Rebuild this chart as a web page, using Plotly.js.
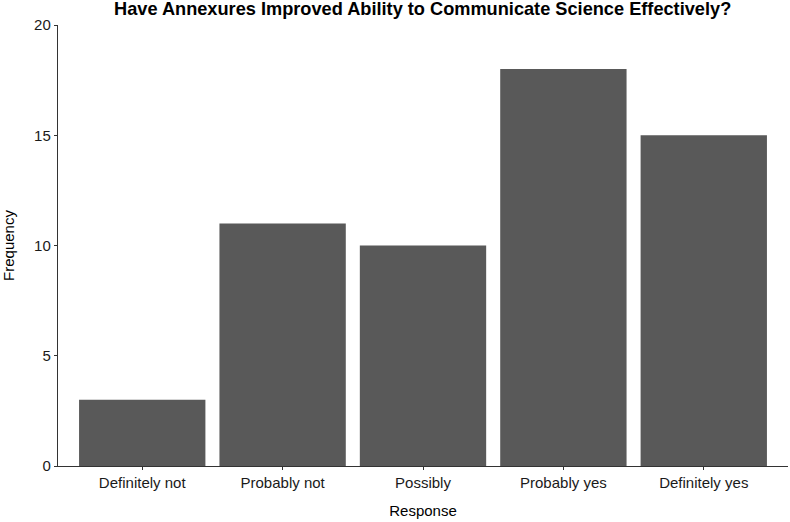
<!DOCTYPE html>
<html>
<head>
<meta charset="utf-8">
<script src="https://cdn.plot.ly/plotly-3.0.1.min.js"></script>
<style>html,body{margin:0;padding:0;background:#fff;}#chart{width:790px;height:522px;}</style>
</head>
<body>
<div id="chart"></div>
<script>
const categories = ["Definitely not", "Probably not", "Possibly", "Probably yes", "Definitely yes"];
const frequencies = [3, 11, 10, 18, 15];
const yTicks = [0, 5, 10, 15, 20];

const font = "Liberation Sans, Arial, Helvetica, sans-serif";
Plotly.newPlot("chart", [{
  type: "bar",
  x: categories.map((c, i) => i),
  y: frequencies,
  width: 0.9,
  marker: {color: "#595959", line: {width: 0}},
  hoverinfo: "x+y"
}], {
  width: 790, height: 522,
  margin: {l: 58, r: 2, t: 25, b: 56},
  paper_bgcolor: "#fff", plot_bgcolor: "#fff",
  showlegend: false,
  font: {family: font, size: 15, color: "#000"},
  title: {text: "<b>Have Annexures Improved Ability to Communicate Science Effectively?</b>", x: 0.535, xanchor: "center", y: 0.984, yanchor: "middle", font: {family: font, size: 18.2, color: "#000"}},
  xaxis: {
    range: [-0.6, 4.6], tickmode: "array", tickvals: categories.map((c, i) => i), ticktext: categories,
    showgrid: false, zeroline: false, showline: true, linecolor: "#333", linewidth: 1.2,
    ticks: "outside", ticklen: 3, tickcolor: "#333", tickfont: {size: 15, color: "#1a1a1a"},
    title: {text: "Response", font: {size: 15, color: "#000"}, standoff: 15}, fixedrange: true
  },
  yaxis: {
    range: [0, 20], tickmode: "array", tickvals: yTicks, ticktext: yTicks.map(String),
    showgrid: false, zeroline: false, showline: true, linecolor: "#333", linewidth: 1.2,
    ticks: "outside", ticklen: 3, tickcolor: "#333", tickfont: {size: 15, color: "#1a1a1a"},
    title: {text: "Frequency", font: {size: 15, color: "#000"}, standoff: 18}, fixedrange: true
  }
}, {displayModeBar: false, staticPlot: true});
</script>
</body>
</html>
